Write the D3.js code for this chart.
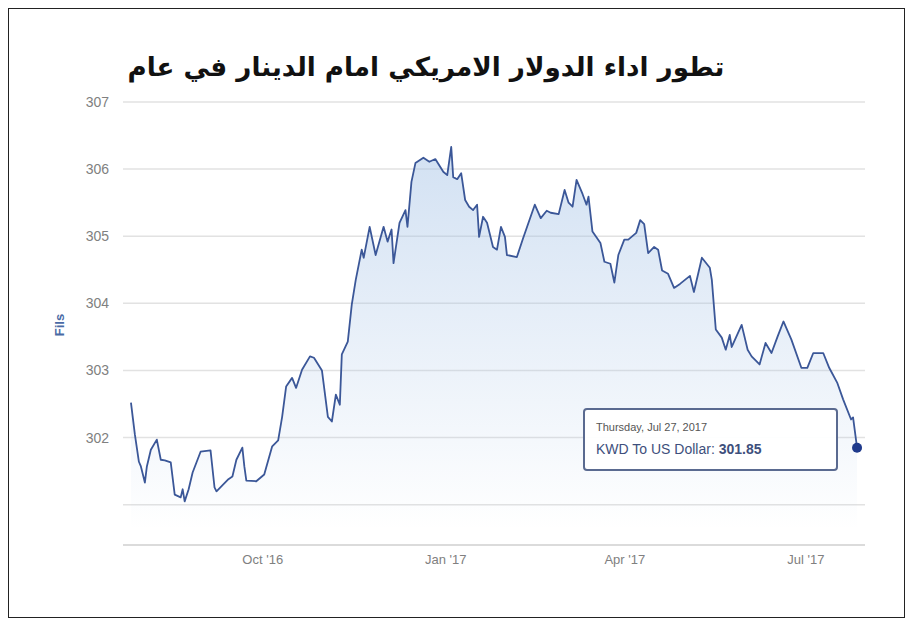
<!DOCTYPE html>
<html>
<head>
<meta charset="utf-8">
<script src="https://cdn.jsdelivr.net/npm/d3@7"></script>
<style>
  body { margin: 0; background: #fff; }
  svg { display: block; font-family: "Liberation Sans", Arial, sans-serif; }
</style>
</head>
<body>
<div id="chart"></div>
<script>
const title = "تطور اداء الدولار الامريكي امام الدينار في عام";
const yTitle = "Fils";
const dates = [
  "2016-07-27","2016-07-29","2016-07-31","2016-08-01","2016-08-03","2016-08-04","2016-08-06","2016-08-09",
  "2016-08-11","2016-08-13","2016-08-16","2016-08-18","2016-08-21","2016-08-22","2016-08-23","2016-08-25",
  "2016-08-27","2016-08-31","2016-09-05","2016-09-07","2016-09-08","2016-09-14","2016-09-16","2016-09-18",
  "2016-09-21","2016-09-22","2016-09-23","2016-09-28","2016-10-02","2016-10-06","2016-10-09","2016-10-11",
  "2016-10-13","2016-10-16","2016-10-18","2016-10-21","2016-10-25","2016-10-27","2016-10-31","2016-11-03",
  "2016-11-05","2016-11-07","2016-11-09","2016-11-10","2016-11-13","2016-11-15","2016-11-17","2016-11-20",
  "2016-11-21","2016-11-24","2016-11-27","2016-12-01","2016-12-03","2016-12-05","2016-12-06","2016-12-09",
  "2016-12-12","2016-12-13","2016-12-15","2016-12-17","2016-12-21","2016-12-24","2016-12-27","2016-12-31",
  "2017-01-02","2017-01-04","2017-01-05","2017-01-07","2017-01-09","2017-01-11","2017-01-13","2017-01-15",
  "2017-01-17","2017-01-18","2017-01-20","2017-01-22","2017-01-25","2017-01-27","2017-01-29","2017-01-31",
  "2017-02-01","2017-02-06","2017-02-09","2017-02-15","2017-02-18","2017-02-21","2017-02-23","2017-02-27",
  "2017-03-02","2017-03-04","2017-03-06","2017-03-08","2017-03-11","2017-03-13","2017-03-14","2017-03-16",
  "2017-03-20","2017-03-22","2017-03-25","2017-03-27","2017-03-29","2017-04-01","2017-04-03","2017-04-07",
  "2017-04-09","2017-04-11","2017-04-13","2017-04-16","2017-04-18","2017-04-20","2017-04-23","2017-04-26",
  "2017-04-29","2017-05-04","2017-05-06","2017-05-10","2017-05-14","2017-05-15","2017-05-17","2017-05-20",
  "2017-05-22","2017-05-24","2017-05-25","2017-05-30","2017-06-02","2017-06-04","2017-06-08","2017-06-11",
  "2017-06-14","2017-06-17","2017-06-20","2017-06-24","2017-06-29","2017-07-02","2017-07-05","2017-07-10",
  "2017-07-13","2017-07-17","2017-07-20","2017-07-24","2017-07-25","2017-07-27"
];
const values = [
  302.52,302.04,301.64,301.57,301.33,301.57,301.82,301.97,
  301.67,301.66,301.63,301.15,301.11,301.23,301.05,301.23,
  301.48,301.79,301.81,301.26,301.20,301.38,301.42,301.67,
  301.85,301.57,301.36,301.35,301.45,301.87,301.96,302.31,
  302.76,302.89,302.74,303.01,303.21,303.19,303.00,302.31,
  302.24,302.64,302.49,303.24,303.43,303.98,304.35,304.80,
  304.68,305.14,304.72,305.14,304.92,305.10,304.60,305.20,
  305.39,305.14,305.81,306.09,306.17,306.11,306.15,305.96,
  305.91,306.33,305.88,305.85,305.94,305.54,305.44,305.39,
  305.47,304.99,305.29,305.20,304.84,304.80,305.14,304.99,
  304.72,304.69,304.96,305.47,305.27,305.38,305.35,305.33,
  305.69,305.50,305.44,305.84,305.63,305.47,305.59,305.07,
  304.90,304.62,304.59,304.31,304.72,304.95,304.95,305.05,
  305.24,305.18,304.75,304.84,304.80,304.49,304.44,304.23,
  304.29,304.41,304.17,304.68,304.53,304.35,303.61,303.49,
  303.31,303.53,303.35,303.68,303.31,303.21,303.09,303.41,
  303.26,303.50,303.73,303.46,303.04,303.04,303.26,303.26,
  303.04,302.82,302.57,302.27,302.30,301.85
];
const yTicks = [301, 302, 303, 304, 305, 306, 307];
const yTickLabels = ["", "302", "303", "304", "305", "306", "307"];
const xTicks = ["2016-10-01", "2017-01-01", "2017-04-01", "2017-07-01"];
const tooltipDate = "Thursday, Jul 27, 2017";
const tooltipSeries = "KWD To US Dollar";

const width = 909, height = 621;
const parse = d3.timeParse("%Y-%m-%d");
const data = dates.map((d, i) => ({ x: parse(d), y: values[i] }));

const svg = d3.select("#chart").append("svg")
  .attr("width", width).attr("height", height);

// outer frame
svg.append("rect")
  .attr("x", 8.5).attr("y", 8.5)
  .attr("width", 896).attr("height", 609)
  .attr("fill", "none").attr("stroke", "#222").attr("stroke-width", 1);

const xScale = d3.scaleTime()
  .domain([parse("2016-07-23"), parse("2017-07-31")])
  .range([123, 865]);
const yScale = d3.scaleLinear().domain([300.4, 307]).range([545, 102]);

// grid
svg.append("g")
  .selectAll("line")
  .data(yTicks)
  .join("line")
  .attr("x1", 123).attr("x2", 865)
  .attr("y1", (d) => yScale(d)).attr("y2", (d) => yScale(d))
  .attr("stroke", "#e2e2e2").attr("stroke-width", 1.5);

// y labels
const yAxis = svg.append("g")
  .attr("transform", "translate(112,0)")
  .call(d3.axisLeft(yScale).tickValues(yTicks).tickSize(0)
    .tickFormat((d, i) => yTickLabels[i]));
yAxis.select(".domain").remove();
yAxis.selectAll("text")
  .attr("fill", "#808080").style("font-size", "14px");

svg.append("text")
  .attr("transform", "translate(64,325) rotate(-90)")
  .attr("text-anchor", "middle")
  .attr("fill", "#4a6aa5")
  .style("font-size", "13px")
  .style("font-weight", "bold")
  .text(yTitle);

// x axis
const xAxis = svg.append("g")
  .attr("transform", "translate(0,545)")
  .call(d3.axisBottom(xScale).tickValues(xTicks.map(parse)).tickSize(0)
    .tickPadding(10).tickFormat(d3.timeFormat("%b '%y")));
xAxis.select(".domain").attr("stroke", "#cfcfcf").attr("stroke-width", 1.5)
  .attr("d", "M123,0H865");
xAxis.selectAll("text").attr("fill", "#808080").style("font-size", "13px");

// area + line
const defs = svg.append("defs");
const grad = defs.append("linearGradient")
  .attr("id", "areaFill")
  .attr("gradientUnits", "userSpaceOnUse")
  .attr("x1", 0).attr("x2", 0).attr("y1", 140).attr("y2", 530);
grad.append("stop").attr("offset", 0).attr("stop-color", "#a4c2e6").attr("stop-opacity", 0.5);
grad.append("stop").attr("offset", 1).attr("stop-color", "#a4c2e6").attr("stop-opacity", 0);

const area = d3.area()
  .x((d) => xScale(d.x))
  .y0(yScale(300.4))
  .y1((d) => yScale(d.y));
svg.append("path")
  .attr("fill", "url(#areaFill)")
  .attr("d", area(data));

const line = d3.line()
  .x((d) => xScale(d.x))
  .y((d) => yScale(d.y));
svg.append("path")
  .attr("fill", "none")
  .attr("stroke", "#3b5798")
  .attr("stroke-width", 1.8)
  .attr("stroke-linejoin", "round")
  .attr("d", line(data));

// hover marker on last point
const last = data[data.length - 1];
svg.append("circle")
  .attr("cx", xScale(last.x)).attr("cy", yScale(last.y))
  .attr("r", 5)
  .attr("fill", "#1f3a8c");

// tooltip
const tip = svg.append("g").attr("transform", "translate(584,409)");
tip.append("rect")
  .attr("width", 253).attr("height", 61).attr("rx", 3)
  .attr("fill", "#fff").attr("fill-opacity", 0.95)
  .attr("stroke", "#5a6a90").attr("stroke-width", 2);
tip.append("text")
  .attr("x", 12).attr("y", 22)
  .attr("fill", "#555")
  .style("font-size", "11px")
  .text(tooltipDate);
const t2 = tip.append("text")
  .attr("x", 12).attr("y", 45)
  .attr("fill", "#3e4f7c")
  .style("font-size", "14px");
t2.append("tspan").text(tooltipSeries + ": ");
t2.append("tspan").style("font-weight", "bold").text(d3.format(".2f")(last.y));

// title
const titleText = svg.append("text")
  .attr("x", 426).attr("y", 76)
  .attr("text-anchor", "middle")
  .attr("fill", "#111")
  .style("font-family", "'DejaVu Sans', sans-serif")
  .style("font-weight", "bold")
  .style("font-size", "28px")
  .text(title);
const len = titleText.node().getComputedTextLength();
titleText.style("font-size", (28 * 597 / len).toFixed(1) + "px");
</script>
</body>
</html>
